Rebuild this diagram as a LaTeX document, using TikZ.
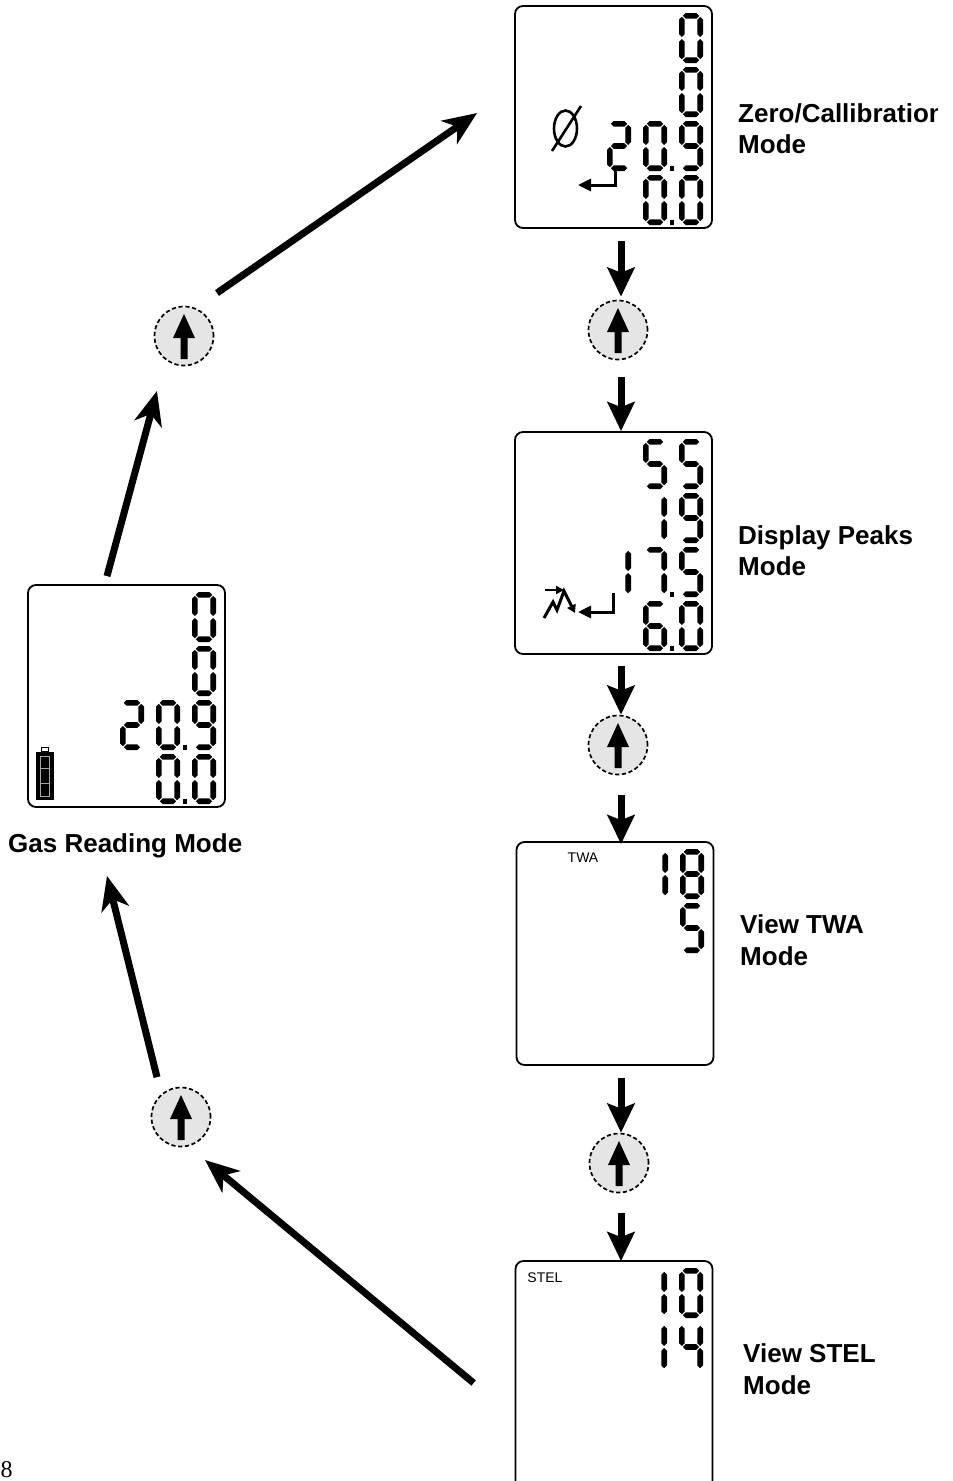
\documentclass[tikz,border=0pt]{standalone}
\usepackage{fontspec}
\setmainfont{Liberation Sans}
\newfontfamily\pgnumfont{Liberation Serif}
\usetikzlibrary{arrows.meta,calc}
% seven-segment helpers
\def\st{5.6}
\def\gp{1.0}
\def\DW{24}
\def\DH{50}
\newcommand\hseg[3]{\fill ({#1},{#3}) -- ({#1+\st/2},{#3-\st/2}) -- ({#2-\st/2},{#3-\st/2}) -- ({#2},{#3}) -- ({#2-\st/2},{#3+\st/2}) -- ({#1+\st/2},{#3+\st/2}) -- cycle;}
\newcommand\vseg[3]{\fill ({#1},{#2}) -- ({#1+\st/2},{#2+\st/2}) -- ({#1+\st/2},{#3-\st/2}) -- ({#1},{#3}) -- ({#1-\st/2},{#3-\st/2}) -- ({#1-\st/2},{#2+\st/2}) -- cycle;}
\newcommand\sega{\hseg{\st/2+\gp}{\DW-\st/2-\gp}{\st/2}}
\newcommand\segb{\vseg{\DW-\st/2}{\st/2+\gp}{\DH/2-\gp}}
\newcommand\segc{\vseg{\DW-\st/2}{\DH/2+\gp}{\DH-\st/2-\gp}}
\newcommand\segd{\hseg{\st/2+\gp}{\DW-\st/2-\gp}{\DH-\st/2}}
\newcommand\sege{\vseg{\st/2}{\DH/2+\gp}{\DH-\st/2-\gp}}
\newcommand\segf{\vseg{\st/2}{\st/2+\gp}{\DH/2-\gp}}
\newcommand\segg{\hseg{\st/2+\gp}{\DW-\st/2-\gp}{\DH/2}}
\newcommand\dg[3]{\begin{scope}[shift={(#1,#2)}]\ifcase#3\relax
 \sega\segb\segc\segd\sege\segf\or
 \segb\segc\or
 \sega\segb\segg\sege\segd\or
 \sega\segb\segg\segc\segd\or
 \segf\segg\segb\segc\or
 \sega\segf\segg\segc\segd\or
 \sega\segf\segg\sege\segd\segc\or
 \sega\segb\segc\or
 \sega\segb\segc\segd\sege\segf\segg\or
 \sega\segb\segc\segd\segf\segg\fi\end{scope}}
\newcommand\dpt[2]{\fill ({#1-2.4},{#2-4.8}) rectangle ({#1+2.4},{#2});}
\newcommand\btnarrow[1]{\begin{scope}[shift={(#1)}]\fill (-3.5,23) -- (3.5,23) -- (3.5,2) -- (11,2) -- (0,-22) -- (-11,2) -- (-3.5,2) -- cycle;\end{scope}}
\begin{document}
\begin{tikzpicture}[x=1pt,y=-1pt,
  lcd/.style={draw, rounded corners=8pt, line width=1.8pt, inner sep=0pt, minimum width=197pt},
  btn/.style={circle, draw, dash pattern=on 4.2pt off 2.6pt, line width=1.7pt, fill=black!10, minimum size=59pt, inner sep=0pt},
  dn/.style={line width=7pt, -{Stealth[length=29pt,width=27pt,inset=5pt]}},
  diag/.style={line width=7pt, -{Stealth[length=34pt,width=28pt,inset=10pt]}},
  lab/.style={font=\fontsize{26pt}{30pt}\selectfont\bfseries, inner sep=0pt, anchor=base west},
  small/.style={font=\fontsize{14pt}{16pt}\selectfont, inner sep=0pt},
  enter/.style={line width=3pt, line join=miter, -{Triangle[length=13pt,width=12pt]}}
]
\useasboundingbox (0,0) rectangle (953,1481);
\clip (0,0) rectangle (953,1481);

% ---------- displays ----------
\node[lcd, minimum height=222pt] (box1) at (613.5,117) {};
\node[lcd, minimum height=222pt] (box2) at (613.5,543) {};
\node[lcd, minimum height=223pt] (box3) at (615,953.5) {};
\node[lcd, minimum height=260pt] (box4) at (614,1391) {};
\node[lcd, minimum height=222pt] (box0) at (126.5,696) {};

% box1 digits (T=6, R=712)
\dg{679}{13}{0}
\dg{679}{67}{0}
\dg{607}{121}{2}\dg{643}{121}{0}\dpt{672}{171}\dg{679}{121}{9}
\dg{643}{175}{0}\dpt{672}{225}\dg{679}{175}{0}
% zero symbol
\draw[line width=2.6pt] (565.5,128.5) ellipse [x radius=11.5pt, y radius=18pt];
\draw[line width=2.6pt] (552,151) -- (581,106);
\draw[enter] (615,169) -- (615,185) -- (578,185);

% box2 digits (T=432, R=712)
\dg{643}{439}{5}\dg{679}{439}{5}
\dg{643}{493}{1}\dg{679}{493}{9}
\dg{607}{547}{1}\dg{643}{547}{7}\dpt{672}{597}\dg{679}{547}{5}
\dg{643}{601}{6}\dpt{672}{651}\dg{679}{601}{0}
% peaks icon
\draw[line width=3pt, line join=miter, -{Triangle[length=8pt,width=9pt]}] (544,618) -- (553,602) -- (557,610) -- (564,591) -- (575,613);
\draw[line width=2.4pt, -{Triangle[length=8pt,width=8pt]}] (545,590) -- (564,590);
\draw[enter] (613,593) -- (613,612) -- (578,612);

% box0 digits (T=585, R=225)
\dg{192}{592}{0}
\dg{192}{646}{0}
\dg{120}{700}{2}\dg{156}{700}{0}\dpt{185}{750}\dg{192}{700}{9}
\dg{156}{754}{0}\dpt{185}{804}\dg{192}{754}{0}
% battery
\fill (36,752) rectangle (54,800);
\draw[black!35, line width=0.8pt] (40.5,756) rectangle (49.5,796);
\draw[black!35, line width=0.8pt] (40.5,768) -- (49.5,768) (40.5,783) -- (49.5,783);
\draw[line width=1.5pt] (41.5,747.5) rectangle (48.5,752);

% TWA display (T=842, R=713)
\dg{644}{849}{1}\dg{680}{849}{8}
\dg{680}{903}{5}
\node[small] (twa) at (583,858) {TWA};

% STEL display (T=1261, R=712)
\dg{643}{1268}{1}\dg{679}{1268}{0}
\dg{643}{1322}{1}\dg{679}{1322}{4}
\node[small] (stel) at (545,1278) {STEL};

% ---------- buttons ----------
\node[btn] (c1) at (618,330) {};
\node[btn] (c2) at (618,745) {};
\node[btn] (c3) at (619,1163) {};
\node[btn] (c4) at (184,336) {};
\node[btn] (c5) at (181,1117) {};
\btnarrow{c1}\btnarrow{c2}\btnarrow{c3}\btnarrow{c4}\btnarrow{c5}

% ---------- connectors ----------
\draw[dn] ($(box1.south)+(7.5,12)$) -- ($(c1.north)+(3,-3)$);
\draw[dn] ($(c1.south)+(3,17)$) -- ($(box2.north)+(7.5,0)$);
\draw[dn] ($(box2.south)+(7.5,11)$) -- ($(c2.north)+(3,0)$);
\draw[dn] ($(c2.south)+(3,20)$) -- ($(box3.north)+(6,3)$);
\draw[dn] ($(box3.south)+(6,12)$) -- ($(c3.north)+(2,0)$);
\draw[dn] ($(c3.south)+(2,20)$) -- ($(box4.north)+(7,1)$);

\draw[diag] ($(c4)+(33,-43)$) -- ($(box1.west)+(-37,-4)$);
\draw[diag] ($(box0.north)+(-19.5,-8)$) -- ($(c4.south)+(-27,24.5)$);
\draw[diag] ($(c5.north)+(-24,-9.5)$) -- ($(box0.south)+(-19.5,68)$);
\draw[diag] ($(box4.west)+(-41,-8)$) -- ($(c5)+(24,43)$);

% ---------- labels ----------
\begin{scope}
\clip (0,0) rectangle (937,1481);
\node[lab] (l1a) at (738,122) {Zero/Callibration};
\end{scope}
\node[lab] (l1b) at (738,153) {Mode};
\node[lab] (l2a) at (738,544) {Display Peaks};
\node[lab] (l2b) at (738,575) {Mode};
\node[lab] (l3a) at (740,933) {View TWA};
\node[lab] (l3b) at (740,965) {Mode};
\node[lab] (l4a) at (743,1362) {View STEL};
\node[lab] (l4b) at (743,1394) {Mode};
\node[lab] (l0) at (8,852) {Gas Reading Mode};
\node[font=\pgnumfont\fontsize{24pt}{28pt}\selectfont, anchor=base west, inner sep=0pt] (pg) at (0.5,1477) {8};
\end{tikzpicture}
\end{document}
